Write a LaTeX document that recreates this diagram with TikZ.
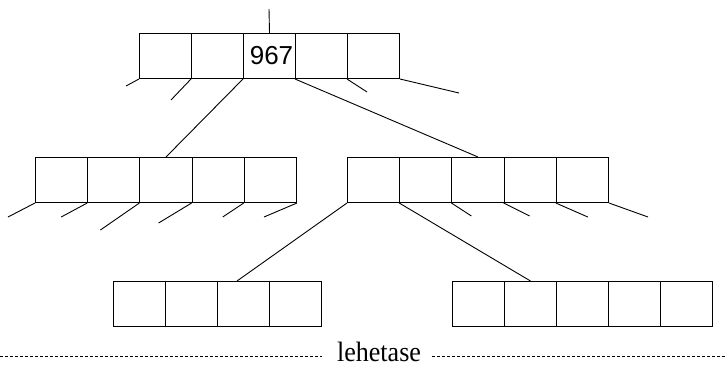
\documentclass[tikz,border=0pt]{standalone}
\usepackage{fontspec}
\setmainfont{Liberation Serif}
\newfontfamily\numfont{Liberation Sans}
\usetikzlibrary{calc}
\tikzset{
  cell/.style={draw=black, line width=1pt, rectangle, minimum width=52pt, minimum height=45pt, inner sep=0pt, anchor=north west},
  wire/.style={draw=black, line width=0.9pt},
  sep/.style={draw=black, line width=0.7pt, dash pattern=on 3pt off 2pt}
}
\begin{document}
\begin{tikzpicture}[x=1pt,y=-1pt]
\useasboundingbox (0,0) rectangle (725,367);
% top node
\foreach \i in {1,...,5} {
  \node[cell] (t\i) at ({139+(\i-1)*52},33) {};
}
\node[font=\numfont\fontsize{26}{26}\selectfont, inner sep=0pt] (key) at ($(t3.center)+(2,0)$) {967};
% left middle node
\foreach \i in {1,...,5} {
  \node[cell, minimum width=52.2pt] (l\i) at ({35+(\i-1)*52.2},157) {};
}
% right middle node
\foreach \i in {1,...,5} {
  \node[cell, minimum width=52.2pt] (r\i) at ({347+(\i-1)*52.2},157) {};
}
% left leaf
\foreach \i in {1,...,4} {
  \node[cell] (a\i) at ({113+(\i-1)*52},281) {};
}
% right leaf
\foreach \i in {1,...,5} {
  \node[cell] (b\i) at ({452+(\i-1)*52},281) {};
}
% incoming pointer of root
\coordinate (rootin) at (269,9);
\draw[wire] (rootin) -- (t3.north);
% top pointers
\draw[wire] (t1.south west) -- ++(-13,7);
\draw[wire] (t2.south west) -- ++(-20,21);
\draw[wire] (t3.south west) -- (l3.north);
\draw[wire] (t4.south west) -- (r3.north);
\draw[wire] (t5.south west) -- ++(20,13);
\draw[wire] (t5.south east) -- ++(59,14);
% left middle pointers
\draw[wire] (l1.south west) -- ++(-27,14);
\draw[wire] (l2.south west) -- ++(-26,14);
\draw[wire] (l3.south west) -- ++(-39,27);
\draw[wire] (l4.south west) -- ++(-33,20);
\draw[wire] (l5.south west) -- ++(-21,14);
\draw[wire] (l5.south east) -- ++(-33,14);
% right middle pointers
\draw[wire] (r1.south west) -- ($(a3.north west)+(20,0)$);
\draw[wire] (r2.south west) -- (b2.north);
\draw[wire] (r3.south west) -- ++(20,13);
\draw[wire] (r4.south west) -- ++(26,13);
\draw[wire] (r5.south west) -- ++(32,14);
\draw[wire] (r5.south east) -- ++(39,14);
% page boundary
\node[inner sep=0pt, anchor=base, font=\fontsize{28}{28}\selectfont] (lbl) at (379,361) {\scalebox{0.93}[1]{lehetase}};
\coordinate (sl) at (0,356);
\coordinate (sr) at (725,356);
\draw[sep] (sl) -- ($(lbl.west |- sl)+(-15,0)$);
\draw[sep] ($(lbl.east |- sr)+(11,0)$) -- (sr);
\end{tikzpicture}
\end{document}
